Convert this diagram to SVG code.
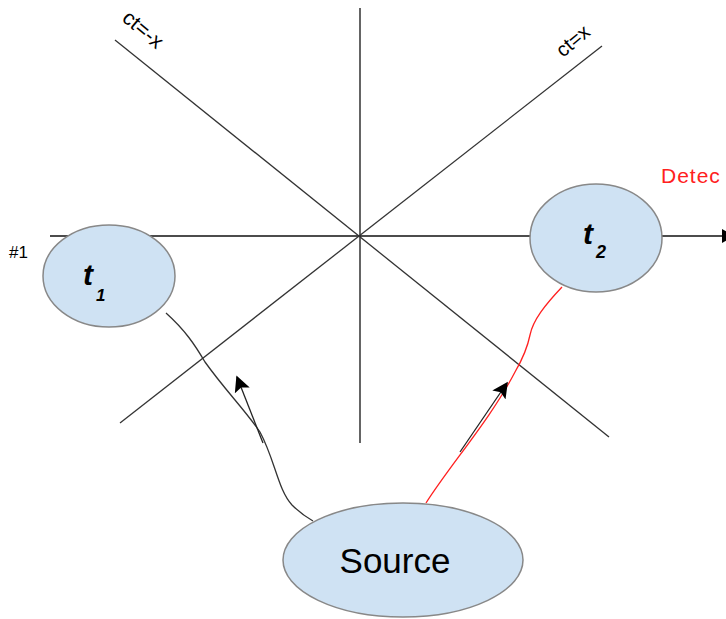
<svg xmlns="http://www.w3.org/2000/svg" width="726" height="619" viewBox="0 0 726 619">
<defs>
<style>
.axis{stroke:#111;stroke-width:1.3;fill:none}
.diag{stroke:#333;stroke-width:1.3;fill:none}
.node{fill:#cfe2f3;stroke:#888;stroke-width:1.5}
.lbl{font-family:"Liberation Sans",Arial,sans-serif;fill:#000}
.tl{font-family:"Liberation Sans",Arial,sans-serif;font-style:italic;font-weight:bold;fill:#000}
</style>
<marker id="ah2" viewBox="0 0 10 10" refX="9" refY="5" markerWidth="16" markerHeight="16" markerUnits="userSpaceOnUse" orient="auto">
<path d="M0,0 L10,5 L0,10 L2,5 z" fill="#000"/>
</marker>
</defs>
<rect width="726" height="619" fill="#fff"/>
<g id="axes">
<line class="axis" x1="360" y1="8" x2="360" y2="443"/>
<line class="axis" x1="50" y1="236" x2="722" y2="236"/>
<path d="M722,229 L734,236 L722,243 z" fill="#000"/>
<line class="diag" x1="120" y1="423" x2="602" y2="46"/>
<line class="diag" x1="115" y1="40" x2="609" y2="437"/>
<text class="lbl" font-size="21" transform="translate(121,20) rotate(40)">ct=-x</text>
<text class="lbl" font-size="20" transform="translate(563,58) rotate(-40)">ct=x</text>
<text class="lbl" font-size="17" x="9" y="258">#1</text>
<text class="lbl" font-size="21" x="661" y="183" letter-spacing="1" style="fill:#ff2020">Detec</text>
</g>
<g id="connectors">
<path d="M166,313 C185,330 195,345 205,362 C225,390 245,410 260,432 C275,460 278,490 292,505 C300,513 306,517 313,521" stroke="#333" stroke-width="1.3" fill="none"/>
<line x1="263" y1="443" x2="237" y2="377" stroke="#222" stroke-width="1.3" marker-end="url(#ah2)"/>
<path d="M562,287 C545,305 533,320 530,335 C527,350 522,360 515,372 C490,420 450,465 426,503" stroke="#ff2020" stroke-width="1.3" fill="none"/>
<line x1="460" y1="452" x2="507" y2="383" stroke="#222" stroke-width="1.3" marker-end="url(#ah2)"/>
</g>
<g id="t1">
<ellipse class="node" cx="109" cy="276" rx="66" ry="51"/>
<text class="tl" font-size="30" x="83" y="285">t</text>
<text class="tl" font-size="17" x="96" y="301">1</text>
</g>
<g id="t2">
<ellipse class="node" cx="596" cy="238" rx="66" ry="54"/>
<text class="tl" font-size="30" x="583" y="244">t</text>
<text class="tl" font-size="18" x="596" y="258">2</text>
</g>
<g id="source">
<ellipse class="node" cx="403" cy="560" rx="120" ry="57"/>
<text class="lbl" font-size="35" x="395" y="573" text-anchor="middle">Source</text>
</g>
</svg>
